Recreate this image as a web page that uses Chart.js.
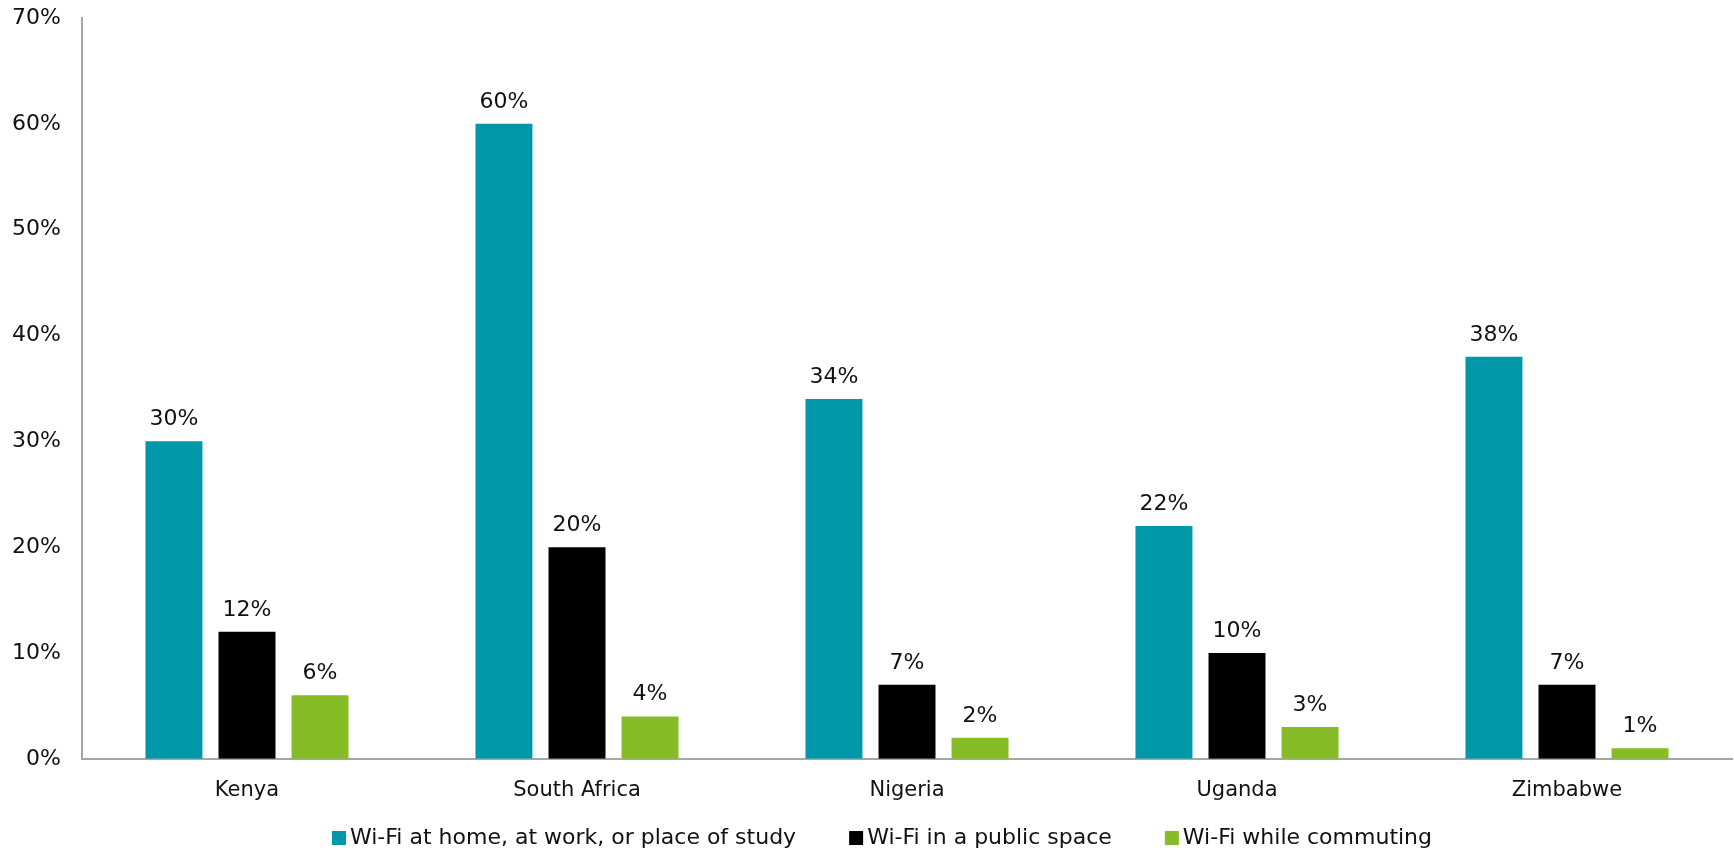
<!DOCTYPE html>
<html>
<head>
<meta charset="utf-8">
<script src="https://cdn.jsdelivr.net/npm/chart.js@4.4.0/dist/chart.umd.min.js"></script>
<style>
html,body{margin:0;padding:0;background:#fff;}
#wrap{width:1734px;height:850px;position:relative;}
</style>
</head>
<body>
<div id="wrap"><canvas id="c" width="1734" height="850"></canvas></div>
<script>
const categories = ["Kenya", "South Africa", "Nigeria", "Uganda", "Zimbabwe"];
const seriesNames = ["Wi-Fi at home, at work, or place of study", "Wi-Fi in a public space", "Wi-Fi while commuting"];
const homeWorkStudy = [30, 60, 34, 22, 38];
const publicSpace = [12, 20, 7, 10, 7];
const commuting = [6, 4, 2, 3, 1];
const yTicks = [0, 10, 20, 30, 40, 50, 60, 70];
const colors = ["#0097A9", "#000000", "#86BC25"];

const FONT = '"DejaVu Sans", Verdana, sans-serif';

const labelPlugin = {
  id: 'valueLabels',
  afterDatasetsDraw(chart) {
    const ctx = chart.ctx;
    ctx.save();
    ctx.font = '22px ' + FONT;
    ctx.fillStyle = '#111';
    ctx.textAlign = 'center';
    ctx.textBaseline = 'alphabetic';
    chart.data.datasets.forEach((ds, i) => {
      const meta = chart.getDatasetMeta(i);
      meta.data.forEach((el, j) => {
        ctx.fillText(ds.data[j] + '%', el.x, el.y - 16);
      });
    });
    ctx.restore();
  }
};

const legendPlugin = {
  id: 'customLegend',
  afterDraw(chart) {
    const ctx = chart.ctx;
    ctx.save();
    ctx.font = '22px ' + FONT;
    ctx.textBaseline = 'middle';
    ctx.textAlign = 'left';
    const box = 14, gapText = 4, gapItem = 53;
    const items = chart.data.datasets.map(ds => ({ text: ds.label, color: ds.backgroundColor, w: ctx.measureText(ds.label).width }));
    let total = 0;
    items.forEach((it, i) => { total += box + gapText + it.w + (i < items.length - 1 ? gapItem : 0); });
    let x = 882 - total / 2;
    const cy = 838;
    items.forEach(it => {
      ctx.fillStyle = it.color;
      ctx.fillRect(x, cy - box / 2, box, box);
      ctx.fillStyle = '#111';
      ctx.fillText(it.text, x + box + gapText, cy);
      x += box + gapText + it.w + gapItem;
    });
    ctx.restore();
  }
};

const seriesData = [homeWorkStudy, publicSpace, commuting];
new Chart(document.getElementById('c'), {
  type: 'bar',
  data: {
    labels: categories,
    datasets: seriesNames.map((n, i) => ({
      label: n,
      data: seriesData[i],
      backgroundColor: colors[i],
      borderWidth: 0,
      categoryPercentage: 0.664,
      barPercentage: 0.78
    }))
  },
  options: {
    responsive: false,
    animation: false,
    layout: { padding: { top: 18, right: 2, left: 0, bottom: 28 } },
    plugins: {
      tooltip: { enabled: false },
      legend: { display: false }
    },
    scales: {
      x: {
        afterFit(s) { s.paddingLeft = 0; s.paddingRight = 0; },
        grid: { display: false, drawTicks: false },
        border: { display: true, color: '#a6a6a6', width: 2 },
        ticks: { font: { family: FONT, size: 21 }, color: '#111', padding: 19 }
      },
      y: {
        min: 0, max: 70,
        afterFit(s) { s.width = 82; s.paddingTop = 0; s.paddingBottom = 0; },
        afterBuildTicks(s) { s.ticks = yTicks.map(v => ({ value: v })); },
        grid: { display: false, drawTicks: false },
        border: { display: true, color: '#a6a6a6', width: 2 },
        ticks: { font: { family: FONT, size: 22 }, color: '#111', padding: 21, callback: v => v + '%' }
      }
    }
  },
  plugins: [labelPlugin, legendPlugin]
});
</script>
</body>
</html>
